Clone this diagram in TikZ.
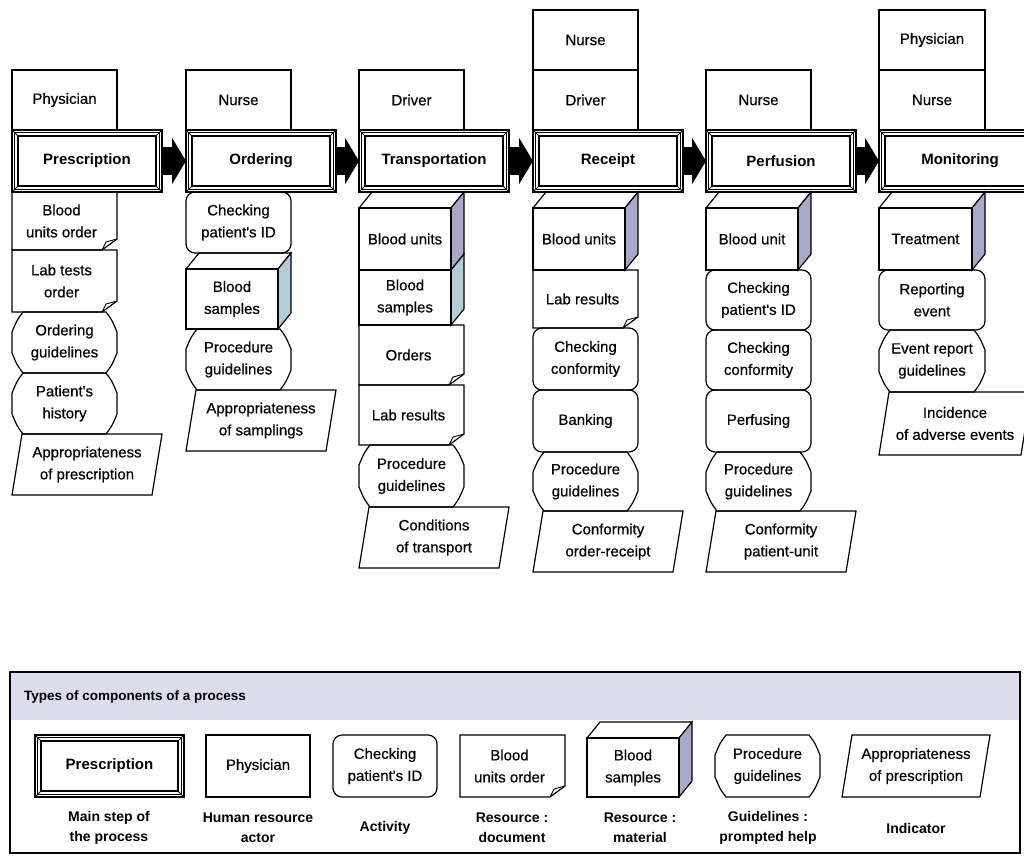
\documentclass[tikz,border=0pt]{standalone}
\usepackage{fontspec}
\setmainfont{Liberation Sans}
\newfontfamily\itemfont{Liberation Sans}[FakeBold=0.5]
\usetikzlibrary{arrows.meta}

\definecolor{unitside}{RGB}{168,168,202}
\definecolor{sampleside}{RGB}{178,205,214}
\definecolor{bandfill}{RGB}{220,220,236}

\tikzset{
  outline/.style={draw=black, line width=1.2pt, line join=miter},
  lbl/.style={align=center, inner sep=0pt, font=\itemfont\fontsize{15}{22}\selectfont},
  stepbox/.style={draw=black, line width=1.3pt, inner sep=0pt, outer sep=0pt,
                  font=\bfseries\fontsize{15}{22}\selectfont},
  legtxt/.style={align=center, inner sep=0pt, font=\bfseries\fontsize{14}{20}\selectfont},
  flow/.style={black, line width=28pt, -{Triangle[length=14pt,width=46pt]}},
}

% #1 name, #2 left, #3 top, #4 width, #5 height, #6 text
\newcommand\actorbox[6]{%
  \draw[outline] (#2,#3) rectangle ++(#4,#5);
  \node[lbl] (#1) at (#2+#4/2,#3+#5/2) {#6};}

\newcommand\mainstep[6]{%
  \node[stepbox, minimum width=#4, minimum height=#5] (#1) at (#2+#4/2,#3+#5/2) {#6};
  \draw[line width=0.7pt] ([shift={(2.5,2.5)}]#1.north west) rectangle ([shift={(-2.5,-2.5)}]#1.south east);
  \draw[line width=1.8pt] ([shift={(6,6)}]#1.north west) rectangle ([shift={(-6,-6)}]#1.south east);
  \draw[line width=0.8pt] (#1.north west) -- ++(6,6) (#1.north east) -- ++(-6,6)
                          (#1.south west) -- ++(6,-6) (#1.south east) -- ++(-6,-6);}

\newcommand\docitem[6]{%
  \draw[outline] (#2,#3) -- (#2+#4,#3) -- (#2+#4,#3+#5-11) -- (#2+#4-15,#3+#5) -- (#2,#3+#5) -- cycle;
  \draw[line width=0.9pt] (#2+#4,#3+#5-11) -- (#2+#4-11,#3+#5-8) -- (#2+#4-15,#3+#5);
  \node[lbl] (#1) at (#2+#4/2-3,#3+#5/2) {#6};}

\newcommand\activity[6]{%
  \draw[outline, rounded corners=9pt] (#2,#3) rectangle ++(#4,#5);
  \node[lbl] (#1) at (#2+#4/2,#3+#5/2) {#6};}

% guideline: box with cut corners, slightly bowed
\newcommand\guideitem[6]{%
  \draw[outline] (#2+11,#3) -- (#2+#4-11,#3)
    .. controls (#2+#4-5,#3+8) .. (#2+#4,#3+20) -- (#2+#4,#3+#5-20)
    .. controls (#2+#4-5,#3+#5-8) .. (#2+#4-11,#3+#5) -- (#2+11,#3+#5)
    .. controls (#2+5,#3+#5-8) .. (#2,#3+#5-20) -- (#2,#3+20)
    .. controls (#2+5,#3+8) .. (#2+11,#3) -- cycle;
  \node[lbl] (#1) at (#2+#4/2,#3+#5/2) {#6};}

\newcommand\indicitem[6]{%
  \draw[outline] (#2+10,#3) -- (#2+#4,#3) -- (#2+#4-10,#3+#5) -- (#2,#3+#5) -- cycle;
  \node[lbl] (#1) at (#2+#4/2,#3+#5/2) {#6};}

% #6 side colour, #7 text
\newcommand\material[7]{%
  \draw[outline] (#2,#3+16) -- (#2+13,#3) -- (#2+#4,#3) -- (#2+#4-13,#3+16);
  \draw[outline, fill=#6] (#2+#4-13,#3+16) -- (#2+#4,#3) -- (#2+#4,#3+#5-16) -- (#2+#4-13,#3+#5) -- cycle;
  \draw[outline] (#2,#3+16) rectangle (#2+#4-13,#3+#5);
  \node[lbl] (#1) at (#2+#4/2-6.5,#3+#5/2+8) {#7};}

% box stacked under another one: no top face
\newcommand\materialcont[7]{%
  \draw[outline, fill=#6] (#2+#4-13,#3) -- (#2+#4,#3-16) -- (#2+#4,#3+#5-16) -- (#2+#4-13,#3+#5) -- cycle;
  \draw[outline] (#2,#3) rectangle (#2+#4-13,#3+#5);
  \node[lbl] (#1) at (#2+#4/2-6.5,#3+#5/2) {#7};}

\begin{document}
\begin{tikzpicture}[x=1pt,y=-1pt]
\useasboundingbox (0,0) rectangle (1024,855);
\clip (0,0) rectangle (1024,855);
\fill[white] (0,0) rectangle (1024,855);

% ---- Prescription
\actorbox{physA}{12}{70}{105}{60}{Physician}
\mainstep{presc}{12}{130}{150}{62}{Prescription}
\docitem{unitsorder}{12}{192}{105}{58}{Blood\\units order}
\docitem{labtests}{12}{250}{105}{62}{Lab tests\\order}
\guideitem{ordguide}{12}{312}{105}{61}{Ordering\\guidelines}
\guideitem{history}{12}{373}{105}{61}{Patient's\\history}
\indicitem{approA}{12}{434}{150}{61}{Appropriateness\\of prescription}

% ---- Ordering
\actorbox{nurseB}{186}{70}{105}{60}{Nurse}
\mainstep{order}{186}{130}{150}{62}{Ordering}
\activity{checkB}{186}{192}{105}{61}{Checking\\patient's ID}
\material{samplesB}{186}{253}{105}{76}{sampleside}{Blood\\samples}
\guideitem{procB}{186}{329}{105}{61}{Procedure\\guidelines}
\indicitem{approB}{186}{390}{150}{61}{Appropriateness\\of samplings}

% ---- Transportation
\actorbox{driverC}{359}{70}{105}{60}{Driver}
\mainstep{transp}{359}{130}{150}{62}{Transportation}
\material{unitsC}{359}{192}{105}{78}{unitside}{Blood units}
\materialcont{samplesC}{359}{270}{105}{55}{sampleside}{Blood\\samples}
\docitem{ordersC}{359}{325}{105}{60}{Orders}
\docitem{labC}{359}{385}{105}{60}{Lab results}
\guideitem{procC}{359}{445}{105}{62}{Procedure\\guidelines}
\indicitem{condC}{359}{507}{150}{61}{Conditions\\of transport}

% ---- Receipt
\actorbox{nurseD}{533}{10}{105}{60}{Nurse}
\actorbox{driverD}{533}{70}{105}{60}{Driver}
\mainstep{receipt}{533}{130}{150}{62}{Receipt}
\material{unitsD}{533}{192}{105}{78}{unitside}{Blood units}
\docitem{labD}{533}{270}{105}{58}{Lab results}
\activity{confD}{533}{328}{105}{62}{Checking\\conformity}
\activity{bankD}{533}{390}{105}{62}{Banking}
\guideitem{procD}{533}{452}{105}{59}{Procedure\\guidelines}
\indicitem{confindD}{533}{511}{150}{61}{Conformity\\order-receipt}

% ---- Perfusion
\actorbox{nurseE}{706}{70}{105}{60}{Nurse}
\mainstep{perf}{706}{130}{150}{62}{Perfusion}
\material{unitE}{706}{192}{105}{78}{unitside}{Blood unit}
\activity{checkE}{706}{270}{105}{60}{Checking\\patient's ID}
\activity{confE}{706}{330}{105}{60}{Checking\\conformity}
\activity{perfusingE}{706}{390}{105}{62}{Perfusing}
\guideitem{procE}{706}{452}{105}{59}{Procedure\\guidelines}
\indicitem{confindE}{706}{511}{150}{61}{Conformity\\patient-unit}

% ---- Monitoring (runs past the right edge)
\actorbox{physF}{879}{10}{106}{60}{Physician}
\actorbox{nurseF}{879}{70}{106}{60}{Nurse}
\mainstep{monit}{879}{130}{162}{62}{Monitoring}
\material{treatF}{879}{192}{106}{78}{unitside}{Treatment}
\activity{reportF}{879}{270}{106}{60}{Reporting\\event}
\guideitem{guideF}{879}{330}{106}{62}{Event report\\guidelines}
\indicitem{incidF}{879}{392}{152}{63}{Incidence\\of adverse events}

% ---- flow between main steps
\draw[flow] (presc.east) -- (order.west);
\draw[flow] (order.east) -- (transp.west);
\draw[flow] (transp.east) -- (receipt.west);
\draw[flow] (receipt.east) -- (perf.west);
\draw[flow] (perf.east) -- (monit.west);

% ---- key
\fill[bandfill] (10,672) rectangle (1020,720);
\draw[line width=1.8pt] (10,672) rectangle (1020,853);
\node[anchor=west, inner sep=0pt, font=\bfseries\fontsize{13.5}{16}\selectfont] (keytitle) at (24,697) {Types of components of a process};

\mainstep{kstep}{35}{735}{149}{62}{Prescription}
\actorbox{kactor}{206}{735}{104}{62}{Physician}
\activity{kact}{333}{735}{104}{62}{Checking\\patient's ID}
\docitem{kdoc}{460}{735}{105}{62}{Blood\\units order}
\material{kmat}{587}{722}{105}{75}{unitside}{Blood\\samples}
\guideitem{kguide}{715}{735}{105}{62}{Procedure\\guidelines}
\indicitem{kind}{842}{735}{148}{62}{Appropriateness\\of prescription}

\node[legtxt] (kl1) at (109,828) {Main step of\\the process};
\node[legtxt] (kl2) at (258,828) {Human resource\\actor};
\node[legtxt] (kl3) at (385,828) {Activity};
\node[legtxt] (kl4) at (512,828) {Resource :\\document};
\node[legtxt] (kl5) at (640,828) {Resource :\\material};
\node[legtxt] (kl6) at (768,828) {Guidelines :\\prompted help};
\node[legtxt] (kl7) at (916,828) {Indicator};
\end{tikzpicture}
\end{document}
